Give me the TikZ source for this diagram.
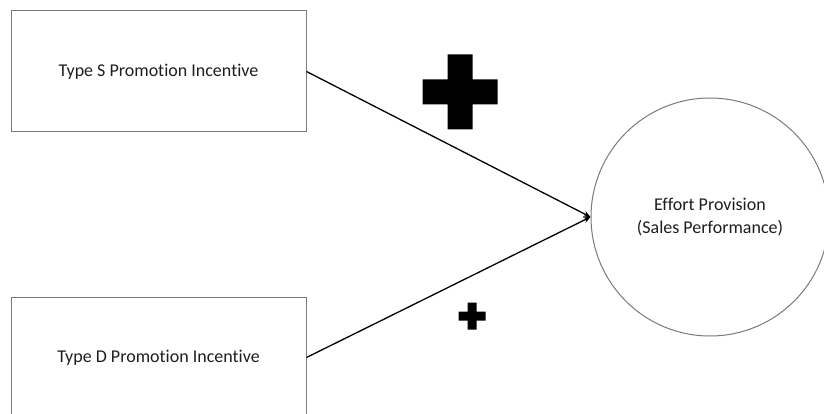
\documentclass[tikz,border=0pt]{standalone}
\usepackage{fontspec}
\setmainfont{Carlito}[Ligatures=NoCommon]
\usetikzlibrary{arrows.meta}
\definecolor{edgegray}{HTML}{7A7A7A}
\definecolor{txt}{HTML}{1E1E1E}
\tikzset{
  factor/.style={draw=edgegray, line width=1pt, minimum width=295pt, minimum height=121pt, inner sep=0pt, font=\fontsize{18}{22}\selectfont, text=txt},
  outcome/.style={circle, draw=edgegray, line width=1pt, minimum size=238pt, inner sep=0pt, align=center, font=\fontsize{18}{23}\selectfont, text=txt},
  link/.style={line width=1.3pt, -{Stealth[length=7pt,width=6pt]}},
  plussign/.style={fill=black}
}
\begin{document}
\begin{tikzpicture}[x=1pt,y=-1pt]
\useasboundingbox (0,0) rectangle (824,414);
\clip (0,0) rectangle (824,414);
\node[factor] (s) at (158.5,71.5) {Type S Promotion Incentive};
\node[factor] (d) at (158.5,357.5) {Type D Promotion Incentive};
\node[outcome] (e) at (710,217) {Effort Provision\\(Sales Performance)};
\draw[link] (s.east) -- (e.west);
\draw[link] (d.east) -- (e.west);
% big plus
\fill[plussign] (447.5,54.5) -- (472.5,54.5) -- (472.5,79.5) -- (497.5,79.5) -- (497.5,104.5) -- (472.5,104.5) -- (472.5,129.5) -- (447.5,129.5) -- (447.5,104.5) -- (422.5,104.5) -- (422.5,79.5) -- (447.5,79.5) -- cycle;
% small plus
\fill[plussign] (467.5,302.5) -- (476.5,302.5) -- (476.5,311.5) -- (485.5,311.5) -- (485.5,320.5) -- (476.5,320.5) -- (476.5,329.5) -- (467.5,329.5) -- (467.5,320.5) -- (458.5,320.5) -- (458.5,311.5) -- (467.5,311.5) -- cycle;
\end{tikzpicture}
\end{document}
